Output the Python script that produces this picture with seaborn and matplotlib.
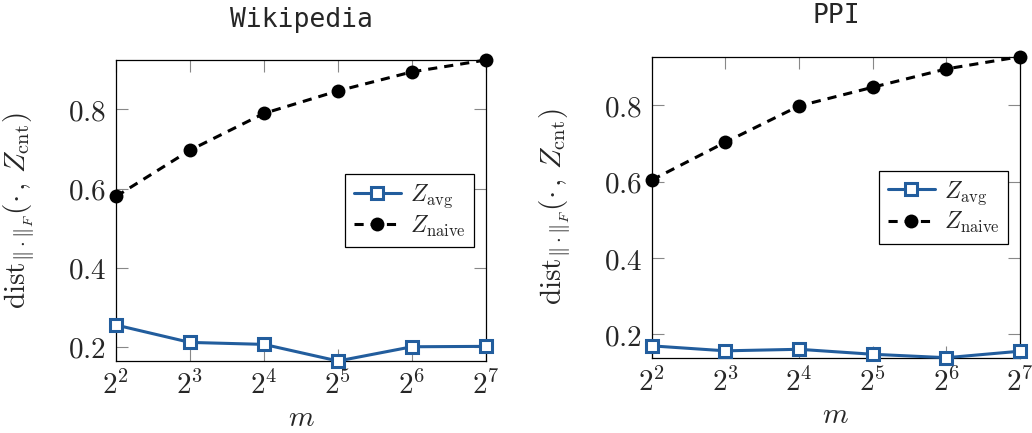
import matplotlib
matplotlib.use("Agg")
import matplotlib.pyplot as plt
import seaborn as sns
import pandas as pd

# m values (powers of two) and measured distances
m_vals = [4, 8, 16, 32, 64, 128]
m_labels = [r"$2^{2}$", r"$2^{3}$", r"$2^{4}$", r"$2^{5}$", r"$2^{6}$", r"$2^{7}$"]

wiki_avg = [0.255, 0.211, 0.206, 0.164, 0.200, 0.201]
wiki_naive = [0.580, 0.697, 0.790, 0.847, 0.895, 0.925]

ppi_avg = [0.170, 0.157, 0.161, 0.148, 0.139, 0.156]
ppi_naive = [0.604, 0.703, 0.798, 0.847, 0.895, 0.927]

panels = ["Wikipedia", "PPI"]
yticks = [0.2, 0.4, 0.6, 0.8]

sns.set_theme(style="ticks")
plt.rcParams["mathtext.fontset"] = "cm"
plt.rcParams["font.family"] = ["DejaVu Serif"]

blue = "#225d9d"

fig = plt.figure(figsize=(10.32, 4.33), dpi=100)
W, H = 1032, 433
ax1 = fig.add_axes([116 / W, (H - 361) / H, 370 / W, 301 / H])
ax2 = fig.add_axes([651.7 / W, (H - 357.7) / H, 368.3 / W, 301 / H])

for ax, name, avg, naive in [(ax1, panels[0], wiki_avg, wiki_naive),
                             (ax2, panels[1], ppi_avg, ppi_naive)]:
    df = pd.DataFrame({"m": m_vals, "avg": avg, "naive": naive})
    sns.lineplot(data=df, x="m", y="avg", ax=ax, color=blue, lw=2.2,
                 marker="s", markersize=8.5, markerfacecolor="white",
                 markeredgecolor=blue, markeredgewidth=2.2, clip_on=False,
                 label=r"$Z_{\mathrm{avg}}$", zorder=3)
    sns.lineplot(data=df, x="m", y="naive", ax=ax, color="black", lw=2.2,
                 linestyle=(0, (3.0, 2.3)), marker="o", markersize=10,
                 markeredgewidth=0, clip_on=False,
                 label=r"$Z_{\mathrm{naive}}$", zorder=3)

    ax.set_xscale("log", base=2)
    ax.set_xlim(4, 128)
    ax.set_ylim(min(avg), max(naive))
    ax.set_xticks(m_vals)
    ax.set_xticklabels(m_labels)
    ax.minorticks_off()
    ax.set_yticks(yticks)
    ax.set_yticklabels([rf"${v:.1f}$" for v in yticks])

    ax.tick_params(axis="both", which="major", direction="in", length=8.5,
                   width=0.8, color="#888888", labelsize=21,
                   top=True, right=True)
    ax.tick_params(axis="x", pad=7)
    ax.tick_params(axis="y", pad=7)
    for sp in ax.spines.values():
        sp.set_visible(True)
        sp.set_color("black")
        sp.set_linewidth(0.9)

    ax.set_xlabel(r"$m$", fontsize=21, labelpad=3)
    ax.set_ylabel(r"$\mathrm{dist}_{\|\cdot\|_F}(\cdot\,,\, Z_{\mathrm{cnt}})$",
                  fontsize=21)
    ax.yaxis.set_label_coords(-0.21, 0.5)
    ax.set_title(name, fontsize=19, family="DejaVu Sans Mono", pad=24)

    leg = ax.legend(loc="center right", bbox_to_anchor=(0.968, 0.5),
                    borderaxespad=0, fontsize=17, frameon=True, fancybox=False,
                    edgecolor="black", framealpha=1, handlelength=2.0,
                    handletextpad=0.4, labelspacing=0.15, borderpad=0.35)
    leg.get_frame().set_linewidth(0.9)

fig.savefig("out.png", dpi=100)
